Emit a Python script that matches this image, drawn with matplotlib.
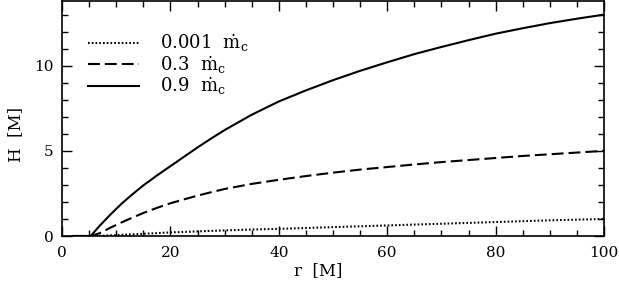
import matplotlib
matplotlib.use("Agg")
import matplotlib.pyplot as plt
from matplotlib.ticker import MultipleLocator

plt.rcParams['font.family'] = 'DejaVu Serif'
plt.rcParams['mathtext.fontset'] = 'dejavuserif'

# r [M] and H [M]
r = [2, 5.3, 7, 9, 11, 13, 15, 17.5, 20, 22.5, 25, 27.5, 30, 35, 40, 45, 50, 55, 60, 65, 70, 75, 80, 85, 90, 95, 100]
h_0001 = [0, 0, 0.01, 0.04, 0.07, 0.1, 0.13, 0.17, 0.21, 0.24, 0.27, 0.3, 0.33, 0.38, 0.42, 0.47, 0.52, 0.57, 0.62, 0.67, 0.72, 0.77, 0.82, 0.87, 0.92, 0.96, 1.0]
h_03 = [0, 0, 0.17, 0.5, 0.8, 1.08, 1.35, 1.65, 1.92, 2.15, 2.37, 2.57, 2.76, 3.06, 3.3, 3.52, 3.72, 3.9, 4.05, 4.2, 4.34, 4.46, 4.58, 4.7, 4.8, 4.9, 5.0]
h_09 = [0, 0, 0.62, 1.28, 1.9, 2.45, 2.97, 3.55, 4.1, 4.65, 5.2, 5.72, 6.22, 7.12, 7.9, 8.55, 9.15, 9.7, 10.2, 10.68, 11.1, 11.5, 11.88, 12.2, 12.5, 12.76, 13.0]

labels = [r'$0.001\ \ \dot{\rm m}_{\rm c}$', r'$0.3\ \ \dot{\rm m}_{\rm c}$', r'$0.9\ \ \dot{\rm m}_{\rm c}$']

fig = plt.figure(figsize=(6.19, 2.88), dpi=100)
ax = fig.add_axes([62 / 619, 52 / 288, 542 / 619, 235 / 288])

ax.plot(r, h_0001, color='black', lw=1.5, ls=(0, (0.8, 1.0)), label=labels[0])
ax.plot(r, h_03, color='black', lw=1.5, ls=(0, (5.7, 2.4)), label=labels[1])
ax.plot(r, h_09, color='black', lw=1.5, ls='-', label=labels[2])

ax.set_xlim(0, 100)
ax.set_ylim(0, 13.8)
ax.xaxis.set_major_locator(MultipleLocator(20))
ax.xaxis.set_minor_locator(MultipleLocator(5))
ax.yaxis.set_major_locator(MultipleLocator(5))
ax.yaxis.set_minor_locator(MultipleLocator(1))
ax.tick_params(which='both', direction='in', top=True, right=True, labelsize=11, width=1)
ax.tick_params(which='major', length=7)
ax.tick_params(which='minor', length=4)
ax.tick_params(axis='x', pad=7)
ax.tick_params(axis='y', pad=6)
for s in ax.spines.values():
    s.set_linewidth(1.2)

ax.set_xlabel('r  [M]', fontsize=12)
ax.set_ylabel('H  [M]', fontsize=12)
ax.xaxis.set_label_coords(0.473, -0.11)
ax.yaxis.set_label_coords(-0.07, 0.43)

ax.legend(loc='upper left', frameon=False, fontsize=13, handlelength=2.8,
          handletextpad=1.2, labelspacing=0.0, borderaxespad=0, borderpad=0,
          bbox_to_anchor=(0.048, 0.865))

fig.savefig('out.png', dpi=100)
